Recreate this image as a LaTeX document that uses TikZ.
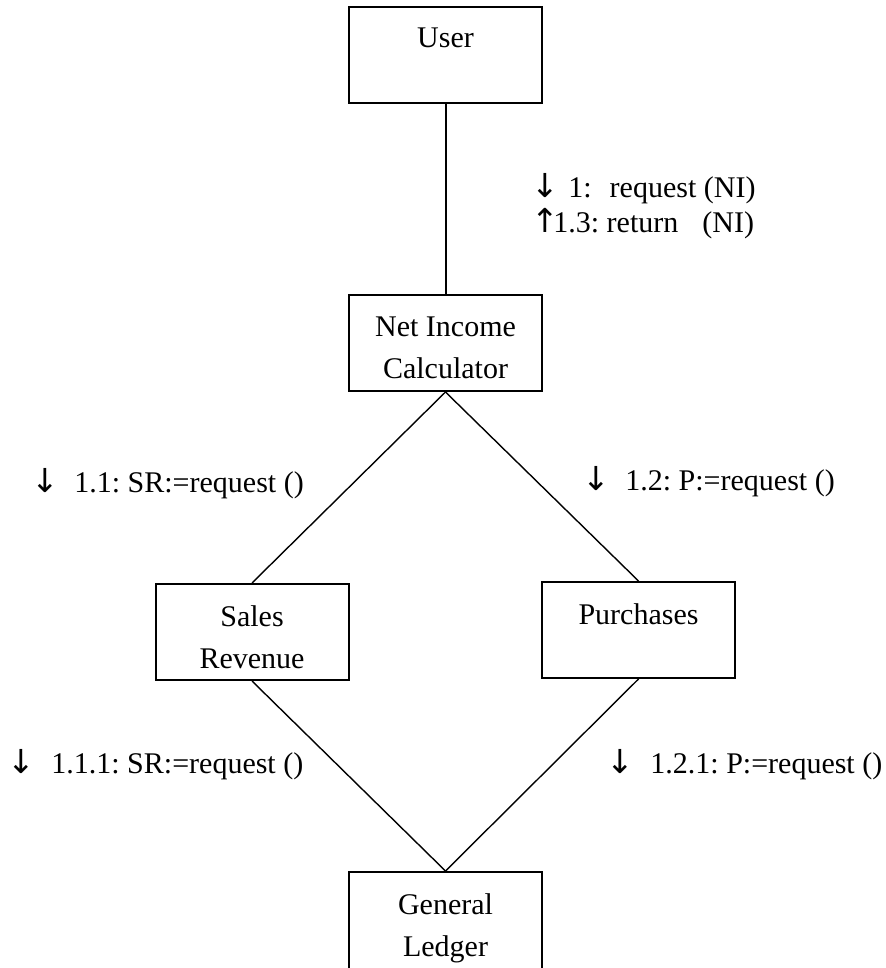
\documentclass[tikz,border=0pt]{standalone}
\usepackage{fontspec}
\setmainfont{Liberation Serif}
\newfontfamily\arrowfont{DejaVu Sans}
% message direction marks, each in a box of fixed width
\newcommand{\msgdown}{\makebox[7.5pt][c]{\arrowfont\fontsize{16.5}{16.5}\selectfont ↓}}
\newcommand{\msgup}{\makebox[7.5pt][c]{\arrowfont\fontsize{16.5}{16.5}\selectfont ↑}}
\begin{document}
\frenchspacing
% one unit = one pixel of a 886 x 968 canvas, y pointing down
\begin{tikzpicture}[x=0.5pt,y=-0.5pt,
  objbox/.style={draw, line width=1pt, minimum width=96.5pt, minimum height=48pt, inner sep=0pt},
  objname/.style={anchor=north, inner sep=0pt, align=center, font=\fontsize{15}{21}\selectfont},
  msg/.style={anchor=base west, inner sep=0pt, font=\fontsize{15}{18}\selectfont},
  link/.style={line width=0.7pt}]
\useasboundingbox (0,0) rectangle (886,968);

% objects
\node[objbox] (user) at (445.5,55) {};
\node[objbox] (nic)  at (445.5,343) {};
\node[objbox] (sr)   at (252,632) {};
\node[objbox] (pur)  at (638.5,630) {};
\node[objbox, minimum height=50pt] (gl) at (445.5,922) {};

\node[objname] (userT) at ([yshift=-10.5pt]user.north) {User};
\node[objname] (nicT)  at ([yshift=-11pt]nic.north) {Net Income\\Calculator};
\node[objname] (srT)   at ([yshift=-11pt]sr.north) {Sales\\Revenue};
\node[objname] (purT)  at ([yshift=-11pt]pur.north) {Purchases};
\node[objname] (glT)   at ([yshift=-11pt]gl.north) {General\\Ledger};

% links
\draw[link, line width=1pt] (user.south) -- (nic.north);
\draw[link] (nic.south) -- (sr.north);
\draw[link] (nic.south) -- (pur.north);
\draw[link] (sr.south) -- (gl.north);
\draw[link] (pur.south) -- (gl.north);

% messages
\node[msg] (m1)   at (537,198) {\msgdown\hspace{8pt}1:\hspace{9pt}request (NI)};
\node[msg] (m13)  at (537,233) {\msgup\hspace{0.5pt}1.3: return\hspace{12pt}(NI)};
\node[msg] (m11)  at (37,492)  {\msgdown\hspace{11pt}1.1: SR:=request ()};
\node[msg] (m12)  at (588,490) {\msgdown\hspace{11pt}1.2: P:=request ()};
\node[msg] (m111) at (13,773)  {\msgdown\hspace{11.5pt}1.1.1: SR:=request ()};
\node[msg] (m121) at (612,773) {\msgdown\hspace{11.5pt}1.2.1: P:=request ()};
\end{tikzpicture}
\end{document}
